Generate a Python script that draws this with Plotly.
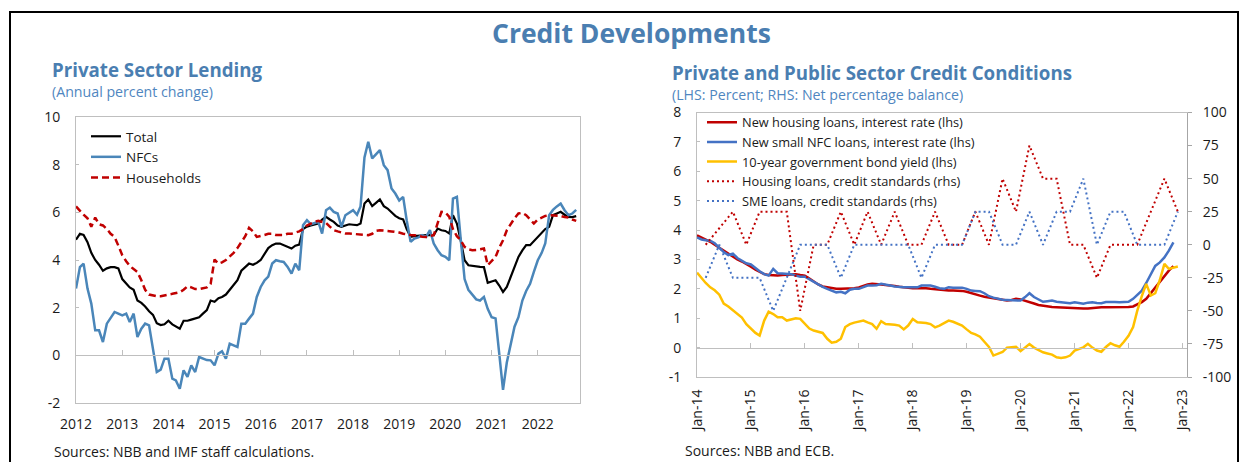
import pandas as pd
import plotly.graph_objects as go

W, H = 1244, 462
FONT = "Open Sans"
TITLE_BLUE = "#4A7EB1"
SUB_BLUE = "#4F86C0"
GRID_GREY = "#BFBFBF"

# ---------------- Left panel: Private Sector Lending (annual % change), monthly Jan-2012 .. Nov-2022
lending_start = "2012-01-01"
total = [
    4.85, 5.1, 5.05, 4.75, 4.3, 4.0, 3.8, 3.55, 3.65, 3.7, 3.7, 3.65,
    3.2, 3.0, 2.85, 2.75, 2.3, 2.2, 2.05, 1.85, 1.7, 1.35, 1.27, 1.3,
    1.45, 1.3, 1.2, 1.12, 1.45, 1.45, 1.5, 1.55, 1.6, 1.75, 1.9, 2.3,
    2.25, 2.4, 2.45, 2.55, 2.75, 3.0, 3.15, 3.55, 3.7, 3.85, 3.8, 3.88,
    4.0, 4.27, 4.5, 4.62, 4.69, 4.69, 4.62, 4.55, 4.48, 4.6, 4.65, 5.3,
    5.4, 5.45, 5.5, 5.53, 5.7, 5.81, 5.7, 5.6, 5.45, 5.39, 5.45, 5.5,
    5.48, 5.46, 5.53, 6.37, 6.54, 6.26, 6.4, 6.54, 6.26, 6.16, 6.0, 5.85,
    5.75, 5.7, 5.3, 4.97, 5.0, 5.02, 5.04, 5.04, 5.04, 5.04, 5.32, 5.25,
    5.22, 5.11, 5.88, 5.53, 4.83, 3.99, 3.78, 3.75, 3.72, 3.71, 3.7, 3.04,
    3.1, 3.15, 2.94, 2.66, 2.87, 3.3, 3.7, 4.13, 4.4, 4.62, 4.62, 4.8,
    4.97, 5.15, 5.3, 5.39, 5.88, 5.95, 6.02, 5.9, 5.81, 5.8, 5.84,
]
nfcs = [
    2.8, 3.7, 3.85, 2.8, 2.17, 1.05, 1.05, 0.56, 1.33, 1.6, 1.82, 1.75,
    1.68, 1.75, 1.4, 1.75, 0.77, 1.12, 1.33, 1.26, 0.35, -0.7, -0.6, -0.14,
    -0.14, -0.98, -1.05, -1.4, -0.63, -0.9, -0.42, -0.7, -0.07, -0.14, -0.2, -0.21,
    -0.42, 0.07, 0.17, -0.14, 0.49, 0.42, 0.35, 1.33, 1.33, 1.54, 1.75, 2.45,
    2.87, 3.15, 3.3, 3.85, 3.99, 3.95, 3.92, 3.71, 3.43, 3.85, 3.57, 5.46,
    5.67, 5.5, 5.55, 5.6, 5.11, 6.09, 6.2, 6.02, 5.95, 5.39, 5.88, 6.0,
    6.09, 5.9, 6.25, 8.3, 8.96, 8.26, 8.45, 8.61, 7.98, 7.77, 7.0, 6.79,
    6.5, 6.65, 5.67, 4.76, 4.9, 4.95, 5.04, 4.97, 5.25, 4.69, 4.41, 4.2,
    4.13, 3.99, 6.58, 6.65, 4.9, 3.2, 2.75, 2.55, 2.35, 2.3, 2.45, 1.95,
    1.6, 1.55, 0.05, -1.45, -0.3, 0.5, 1.2, 1.6, 2.3, 2.7, 3.0, 3.5,
    3.99, 4.3, 4.69, 5.88, 6.1, 6.25, 6.37, 6.09, 5.88, 5.95, 6.1,
]
households = [
    6.25, 6.05, 5.9, 5.75, 5.4, 5.78, 5.5, 5.45, 5.3, 5.1, 4.97, 4.6,
    4.2, 3.95, 3.75, 3.62, 3.5, 3.15, 2.75, 2.55, 2.5, 2.48, 2.48, 2.5,
    2.55, 2.58, 2.62, 2.65, 2.75, 2.9, 2.85, 2.78, 2.78, 2.8, 2.85, 3.0,
    4.02, 3.85, 3.9, 4.0, 4.13, 4.3, 4.5, 4.76, 5.0, 5.35, 5.2, 4.97,
    5.0, 5.05, 5.1, 5.1, 5.05, 5.05, 5.05, 5.1, 5.1, 5.15, 5.2, 5.3,
    5.45, 5.53, 5.6, 5.64, 5.6, 5.56, 5.4, 5.25, 5.2, 5.15, 5.11, 5.11,
    5.1, 5.08, 5.07, 5.05, 5.04, 5.1, 5.22, 5.25, 5.25, 5.22, 5.2, 5.18,
    5.15, 5.1, 5.07, 5.05, 5.04, 5.0, 4.98, 4.97, 5.0, 5.04, 5.55, 6.02,
    6.0, 5.81, 5.3, 5.0, 4.83, 4.55, 4.45, 4.41, 4.42, 4.45, 4.48, 3.78,
    3.95, 4.13, 4.5, 4.83, 5.25, 5.53, 5.75, 5.95, 5.98, 5.88, 5.7, 5.53,
    5.7, 5.78, 5.85, 5.88, 5.88, 5.88, 5.85, 5.8, 5.78, 5.7, 5.64,
]
left_years = list(range(2012, 2023))
left_yticks = [-2, 0, 2, 4, 6, 8, 10]

# ---------------- Right panel: credit conditions
rates_start = "2014-01-01"
housing_rate = [
    3.82, 3.75, 3.68, 3.6, 3.5, 3.4, 3.3, 3.18, 3.1, 3.0, 2.93, 2.85,
    2.75, 2.65, 2.57, 2.5, 2.47, 2.45, 2.45, 2.47, 2.48, 2.5, 2.5, 2.47,
    2.45, 2.35, 2.25, 2.15, 2.08, 2.05, 2.02, 2.0, 2.0, 2.0, 2.0, 2.02,
    2.05, 2.1, 2.15, 2.17, 2.17, 2.15, 2.13, 2.12, 2.1, 2.07, 2.05, 2.03,
    2.02, 2.02, 2.03, 2.02, 2.0, 1.98, 1.96, 1.95, 1.94, 1.94, 1.94, 1.93,
    1.9, 1.85, 1.8, 1.77, 1.73, 1.7, 1.68, 1.65, 1.62, 1.6, 1.62, 1.66,
    1.64, 1.6, 1.55, 1.5, 1.45, 1.42, 1.4, 1.38, 1.37, 1.36, 1.35, 1.34,
    1.34, 1.33, 1.33, 1.33, 1.35, 1.36, 1.37, 1.37, 1.37, 1.37, 1.37, 1.38,
    1.38, 1.4, 1.46, 1.55, 1.66, 1.85, 2.05, 2.25, 2.45, 2.62, 2.77,
]
nfc_rate = [
    3.75, 3.68, 3.65, 3.64, 3.55, 3.4, 3.25, 3.15, 3.2, 3.05, 2.95, 2.87,
    2.83, 2.7, 2.6, 2.5, 2.45, 2.68, 2.53, 2.52, 2.51, 2.5, 2.45, 2.41,
    2.41, 2.32, 2.22, 2.15, 2.07, 2.0, 1.95, 1.88, 1.9, 1.85, 1.97, 2.0,
    2.0, 2.05, 2.11, 2.11, 2.12, 2.17, 2.15, 2.11, 2.08, 2.06, 2.05, 2.05,
    2.05, 2.05, 2.11, 2.1, 2.11, 2.07, 2.02, 2.0, 2.05, 2.04, 2.03, 2.04,
    2.0, 1.94, 1.93, 1.92, 1.85, 1.75, 1.7, 1.66, 1.63, 1.62, 1.61, 1.6,
    1.6, 1.72, 1.85, 1.72, 1.64, 1.56, 1.58, 1.6, 1.56, 1.54, 1.52, 1.51,
    1.54, 1.52, 1.49, 1.53, 1.54, 1.52, 1.51, 1.55, 1.56, 1.55, 1.54, 1.54,
    1.56, 1.66, 1.8, 1.94, 2.2, 2.5, 2.78, 2.9, 3.07, 3.3, 3.58,
]
bond_yield = [
    2.55, 2.35, 2.2, 2.05, 1.95, 1.8, 1.5, 1.4, 1.28, 1.15, 1.02, 0.8,
    0.64, 0.5, 0.41, 0.92, 1.22, 1.14, 1.03, 1.03, 0.92, 0.95, 1.0, 0.98,
    0.8, 0.65, 0.58, 0.55, 0.5, 0.3, 0.17, 0.2, 0.3, 0.7, 0.8, 0.85,
    0.88, 0.92, 0.86, 0.8, 0.64, 0.9, 0.8, 0.8, 0.78, 0.75, 0.62, 0.75,
    0.97, 0.86, 0.86, 0.84, 0.8, 0.69, 0.75, 0.83, 0.92, 0.88, 0.8, 0.75,
    0.62, 0.5, 0.45, 0.37, 0.2, 0.02, -0.27, -0.22, -0.15, 0.0, 0.02, 0.03,
    -0.12, 0.0, 0.12, 0.0, -0.08, -0.16, -0.2, -0.24, -0.33, -0.35, -0.33, -0.27,
    -0.1, -0.05, 0.01, 0.13, 0.0, -0.1, -0.14, 0.02, 0.15, 0.08, 0.03, 0.2,
    0.4, 0.7, 1.25, 1.75, 2.17, 1.77, 1.85, 2.3, 2.85, 2.68, 2.72, 2.76,
]
standards_start = "2014-03-01"  # quarterly observations
housing_std = [
    0, 12.5, 25, 0,
    25, 25, 25, -50,
    0, 0, 25, 0,
    25, 0, 25, 0,
    0, 25, 0, 0,
    25, 0, 50, 25,
    75, 50, 50, 0,
    0, -25, 0, 0,
    0, 25, 50, 25,
]
sme_std = [
    -25, 0, -25, -25,
    -25, -50, -25, 0,
    0, 0, -25, 0,
    0, 0, 0, 0,
    -25, 0, 0, 0,
    25, 25, 0, 0,
    25, 0, 25, 25,
    50, 0, 25, 25,
    0, 0, 0, 25,
]
right_years = list(range(2014, 2024))
lhs_ticks = [-1, 0, 1, 2, 3, 4, 5, 6, 7, 8]
rhs_ticks = [-100, -75, -50, -25, 0, 25, 50, 75, 100]

# ---------------- geometry (pixels)
L_X0, L_X1, L_Y0, L_Y1 = 76, 580, 117, 403
R_X0, R_X1, R_Y0, R_Y1 = 697, 1187, 112.5, 377
L_RANGE_Y = [-2, 10]
R_RANGE_Y = [-1, 8]
R_RANGE_Y2 = [-100, 100]
L_RANGE_X = ["2012-01-01", "2022-12-01"]
R_RANGE_X = ["2014-01-01", "2023-02-01"]


def px_dom_x(a, b):
    return [a / W, b / W]


def px_dom_y(top, bottom):
    return [1 - bottom / H, 1 - top / H]


def hyphen(v):
    return str(v).replace("\u2212", "-")


l_dates = pd.date_range(lending_start, periods=len(total), freq="MS")
r_dates = pd.date_range(rates_start, periods=len(housing_rate), freq="MS")
y_dates = pd.date_range(rates_start, periods=len(bond_yield), freq="MS")
q_dates = pd.date_range(standards_start, periods=len(housing_std), freq="3MS")

fig = go.Figure()

# Left panel traces
fig.add_trace(go.Scatter(x=l_dates, y=total, name="Total", mode="lines",
                         line=dict(color="#000000", width=2.2), xaxis="x", yaxis="y", legend="legend"))
fig.add_trace(go.Scatter(x=l_dates, y=nfcs, name="NFCs", mode="lines",
                         line=dict(color="#4A86B9", width=2.5), xaxis="x", yaxis="y", legend="legend"))
fig.add_trace(go.Scatter(x=l_dates, y=households, name="Households", mode="lines",
                         line=dict(color="#C00000", width=2.5, dash="7px,4px"), xaxis="x", yaxis="y", legend="legend"))
# zero-line axis carrier (no data)
fig.add_trace(go.Scatter(x=[], y=[], xaxis="x3", yaxis="y", showlegend=False, hoverinfo="skip"))

# Right panel traces
fig.add_trace(go.Scatter(x=r_dates, y=housing_rate, name="New housing loans, interest rate (lhs)", mode="lines",
                         line=dict(color="#C00000", width=2.5), xaxis="x2", yaxis="y3", legend="legend2"))
fig.add_trace(go.Scatter(x=r_dates, y=nfc_rate, name="New small NFC loans, interest rate (lhs)", mode="lines",
                         line=dict(color="#4472C4", width=2.5), xaxis="x2", yaxis="y3", legend="legend2"))
fig.add_trace(go.Scatter(x=y_dates, y=bond_yield, name="10-year government bond yield (lhs)", mode="lines",
                         line=dict(color="#FFC000", width=2.5), xaxis="x2", yaxis="y3", legend="legend2"))
fig.add_trace(go.Scatter(x=q_dates, y=housing_std, name="Housing loans, credit standards (rhs)", mode="lines",
                         line=dict(color="#C00000", width=2, dash="2px,3px"), xaxis="x2", yaxis="y4", legend="legend2"))
fig.add_trace(go.Scatter(x=q_dates, y=sme_std, name="SME loans, credit standards (rhs)", mode="lines",
                         line=dict(color="#4472C4", width=2, dash="2px,3px"), xaxis="x2", yaxis="y4", legend="legend2"))
fig.add_trace(go.Scatter(x=[], y=[], xaxis="x4", yaxis="y3", showlegend=False, hoverinfo="skip"))

tickfont = dict(family=FONT, size=14, color="#1A1A1A")

l_ydom = px_dom_y(L_Y0, L_Y1)
r_ydom = px_dom_y(R_Y0, R_Y1)
l_zero_pos = l_ydom[0] + (0 - L_RANGE_Y[0]) / (L_RANGE_Y[1] - L_RANGE_Y[0]) * (l_ydom[1] - l_ydom[0])
r_zero_pos = r_ydom[0] + (0 - R_RANGE_Y[0]) / (R_RANGE_Y[1] - R_RANGE_Y[0]) * (r_ydom[1] - r_ydom[0])

l_tickvals = [f"{y}-01-01" for y in left_years]
r_tickvals = [f"{y}-01-01" for y in right_years]

common_axis = dict(showgrid=False, zeroline=False, automargin=False)

fig.update_layout(
    width=W, height=H, autosize=False,
    margin=dict(l=0, r=0, t=0, b=0, pad=0, autoexpand=False),
    paper_bgcolor="white", plot_bgcolor="white",
    font=dict(family=FONT, size=14, color="#1A1A1A"),
    xaxis=dict(domain=px_dom_x(L_X0, L_X1), anchor="y", range=L_RANGE_X, type="date",
               tickvals=l_tickvals, ticktext=[str(y) for y in left_years], ticks="",
               showline=True, mirror=True, linecolor=GRID_GREY, linewidth=1,
               tickfont=tickfont, ticklabelstandoff=8, **common_axis),
    yaxis=dict(domain=l_ydom, anchor="x", range=L_RANGE_Y,
               tickvals=left_yticks, ticktext=[hyphen(v) for v in left_yticks],
               ticks="inside", ticklen=3, tickcolor=GRID_GREY,
               showline=True, mirror=True, linecolor=GRID_GREY, linewidth=1,
               tickfont=tickfont, ticklabelstandoff=12, **common_axis),
    xaxis3=dict(overlaying="x", anchor="free", position=l_zero_pos, range=L_RANGE_X, type="date",
                tickvals=l_tickvals, showticklabels=False, ticks="inside", ticklen=5,
                tickcolor=GRID_GREY, showline=True, linecolor=GRID_GREY, linewidth=1, **common_axis),
    xaxis2=dict(domain=px_dom_x(R_X0, R_X1), anchor="y3", range=R_RANGE_X, type="date",
                tickvals=r_tickvals, ticktext=[f"Jan-{str(y)[2:]}" for y in right_years],
                tickangle=-90, ticks="", showline=True, mirror=True, linecolor=GRID_GREY, linewidth=1,
                tickfont=tickfont, ticklabelstandoff=6, **common_axis),
    yaxis3=dict(domain=r_ydom, anchor="x2", range=R_RANGE_Y,
                tickvals=lhs_ticks, ticktext=[hyphen(v) for v in lhs_ticks],
                ticks="inside", ticklen=3, tickcolor=GRID_GREY,
                showline=True, linecolor=GRID_GREY, linewidth=1,
                tickfont=tickfont, ticklabelstandoff=12, **common_axis),
    yaxis4=dict(overlaying="y3", side="right", anchor="x2", range=R_RANGE_Y2,
                tickvals=rhs_ticks, ticktext=[hyphen(v) for v in rhs_ticks],
                ticks="outside", ticklen=4, tickcolor="#A6A6A6",
                showline=True, linecolor="#A6A6A6", linewidth=1,
                tickfont=tickfont, ticklabelstandoff=8, **common_axis),
    xaxis4=dict(overlaying="x2", anchor="free", position=r_zero_pos, range=R_RANGE_X, type="date",
                tickvals=r_tickvals, showticklabels=False, ticks="inside", ticklen=5,
                tickcolor=GRID_GREY, showline=True, linecolor=GRID_GREY, linewidth=1, **common_axis),
    legend=dict(x=86 / W, y=1 - 121 / H, xanchor="left", yanchor="top",
                bgcolor="rgba(0,0,0,0)", font=dict(family=FONT, size=13.5, color="#1A1A1A"),
                tracegroupgap=0),
    legend2=dict(x=702 / W, y=1 - 107.5 / H, xanchor="left", yanchor="top",
                 bgcolor="rgba(0,0,0,0)", font=dict(family=FONT, size=12.8, color="#1A1A1A"),
                 tracegroupgap=0),
    showlegend=True,
)


def ann(text, x, y, size, color, xanchor="left"):
    return dict(text=text, x=x / W, y=1 - y / H, xref="paper", yref="paper",
                xanchor=xanchor, yanchor="middle", showarrow=False,
                font=dict(family=FONT, size=size, color=color))


fig.update_layout(annotations=[
    ann("<b>Credit Developments</b>", 631, 33, 26.5, TITLE_BLUE, xanchor="center"),
    ann("<b>Private Sector Lending</b>", 50, 69, 18.7, TITLE_BLUE),
    ann("(Annual percent change)", 50, 91, 14.2, SUB_BLUE),
    ann("<b>Private and Public Sector Credit Conditions</b>", 670, 72, 18.7, TITLE_BLUE),
    ann("(LHS: Percent; RHS: Net percentage balance)", 670, 94, 14.2, SUB_BLUE),
    ann("Sources: NBB and IMF staff calculations.", 52, 451, 14, "#1A1A1A"),
    ann("Sources: NBB and ECB.", 683, 450, 14, "#1A1A1A"),
])

fig.add_shape(type="rect", xref="paper", yref="paper",
              x0=10 / W, x1=1238 / W, y0=-0.3, y1=1 - 12 / H,
              line=dict(color="black", width=2), fillcolor="rgba(0,0,0,0)", layer="above")

fig.write_html(
    "out.html",
    post_script="document.documentElement.style.margin='0';document.body.style.margin='0';"
                "document.body.style.padding='0';document.documentElement.style.overflow='hidden';",
)
